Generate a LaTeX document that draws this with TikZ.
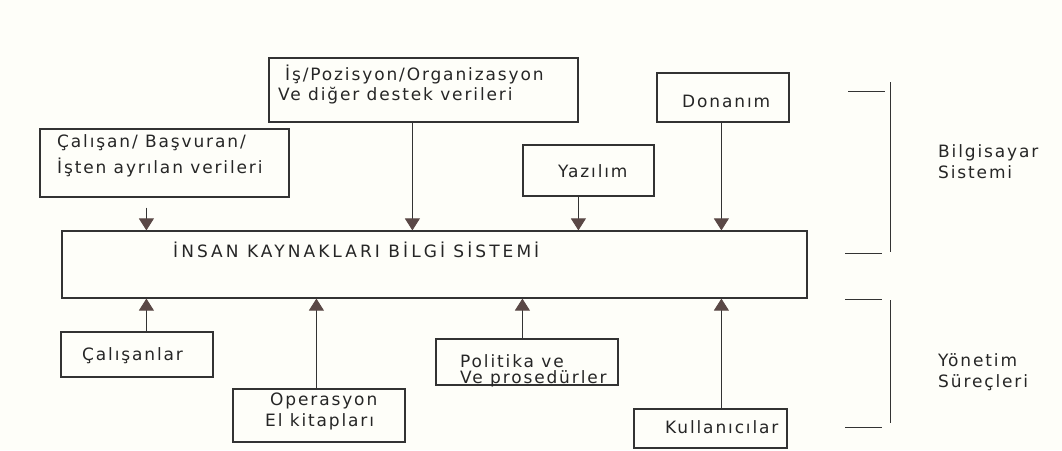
\documentclass[tikz,border=0pt]{standalone}
\usepackage{fontspec}
\setmainfont{DejaVu Sans}[LetterSpace=11]
\newfontfamily\titlefont{DejaVu Sans}[LetterSpace=18]
\usetikzlibrary{arrows.meta}
\definecolor{bg}{HTML}{FEFEF9}
\definecolor{ln}{HTML}{333333}
\definecolor{hd}{HTML}{5A4846}
\definecolor{tx}{HTML}{262626}
\begin{document}
\begin{tikzpicture}[x=1pt,y=-1pt,
  box/.style={draw=ln,line width=1.2pt,rectangle,inner sep=0pt},
  txt/.style={anchor=base west,inner sep=0pt,text=tx,font=\fontsize{17}{20}\selectfont},
  arr/.style={draw=ln,line width=1pt,-{Triangle[width=15pt,length=12pt,color=hd,fill=hd]}},
  brk/.style={draw=ln,line width=1pt}]
\fill[bg] (0,0) rectangle (1062,450);
\useasboundingbox (0,0) rectangle (1062,450);

% boxes
\node[box,minimum width=249pt,minimum height=68pt] (calisan) at (164.5,163) {};
\node[box,minimum width=309pt,minimum height=64pt] (isbox) at (423.5,90) {};
\node[box,minimum width=132pt,minimum height=49pt] (donanim) at (723,97.5) {};
\node[box,minimum width=131pt,minimum height=51pt] (yazilim) at (588.5,170.5) {};
\node[box,minimum width=745pt,minimum height=67pt] (ikbs) at (434.5,264.5) {};
\node[box,minimum width=152pt,minimum height=45pt] (calisanlar) at (137,354.5) {};
\node[box,minimum width=172pt,minimum height=53pt] (operasyon) at (319,415.5) {};
\node[box,minimum width=182pt,minimum height=46pt] (politika) at (527,362) {};
\node[box,minimum width=153pt,minimum height=39pt] (kullanici) at (710.5,428.5) {};

% texts
\node[txt] (t1a) at (57,147) {Çalışan/ Başvuran/};
\node[txt] (t1b) at (57,173) {İşten ayrılan verileri};
\node[txt] (t2a) at (285,80) {İş/Pozisyon/Organizasyon};
\node[txt] (t2b) at (278,100) {Ve diğer destek verileri};
\node[txt] (t3) at (682,107) {Donanım};
\node[txt] (t4) at (558,177) {Yazılım};
\node[txt,font=\titlefont\fontsize{17}{20}\selectfont] (t5) at (173,257) {İNSAN KAYNAKLARI BİLGİ SİSTEMİ};
\node[txt] (t6) at (82,360) {Çalışanlar};
\node[txt] (t7a) at (270,405) {Operasyon};
\node[txt] (t7b) at (265,426) {El kitapları};
\node[txt] (t8a) at (460,367) {Politika ve};
\node[txt] (t8b) at (460,383) {Ve prosedürler};
\node[txt] (t9) at (665,433) {Kullanıcılar};
\node[txt] (l1a) at (938,157) {Bilgisayar};
\node[txt] (l1b) at (938,178) {Sistemi};
\node[txt] (l2a) at (938,366) {Yönetim};
\node[txt] (l2b) at (938,387) {Süreçleri};

% connector start points
\coordinate (d1) at ([shift={(107pt,-10pt)}]calisan.south west);
\coordinate (d2) at ([xshift=144pt]isbox.south west);
\coordinate (d3) at ([xshift=56pt]yazilim.south west);
\coordinate (d4) at ([xshift=65pt]donanim.south west);
\coordinate (u1) at ([xshift=86pt]calisanlar.north west);
\coordinate (u2) at ([xshift=84pt]operasyon.north west);
\coordinate (u3) at ([xshift=87pt]politika.north west);
\coordinate (u4) at ([xshift=88pt]kullanici.north west);

\draw[arr] (d1) -- (d1 |- ikbs.north);
\draw[arr] (d2) -- (d2 |- ikbs.north);
\draw[arr] (d3) -- (d3 |- ikbs.north);
\draw[arr] (d4) -- (d4 |- ikbs.north);
\draw[arr] (u1) -- (u1 |- ikbs.south);
\draw[arr] (u2) -- (u2 |- ikbs.south);
\draw[arr] (u3) -- (u3 |- ikbs.south);
\draw[arr] (u4) -- (u4 |- ikbs.south);

% brackets
\draw[brk] (890,82) -- (890,252);
\draw[brk] (848,91) -- (885,91);
\draw[brk] (845,253) -- (882,253);
\draw[brk] (890,300) -- (890,423);
\draw[brk] (845,299) -- (882,299);
\draw[brk] (845,427) -- (882,427);
\end{tikzpicture}
\end{document}
